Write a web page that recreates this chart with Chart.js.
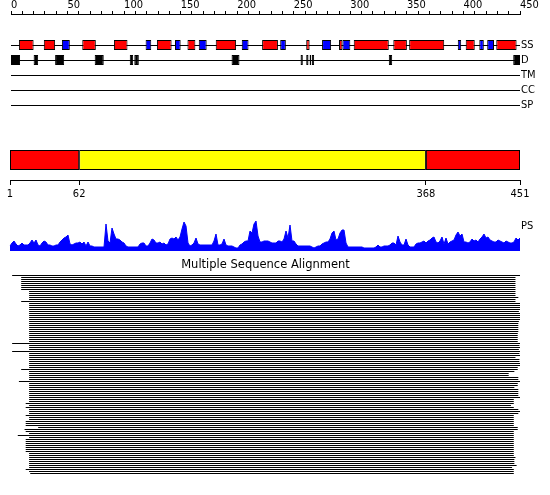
<!DOCTYPE html>
<html>
<head>
<meta charset="utf-8">
<script src="https://cdn.jsdelivr.net/npm/chart.js@4"></script>
<style>
  body { margin: 0; background: #fff; }
  #wrap { position: relative; width: 550px; height: 495px; }
  canvas { position: absolute; left: 0; }
</style>
</head>
<body>
<div id="wrap">
  <canvas id="ruler" width="550" height="20" style="top:0"></canvas>
  <canvas id="tracks" width="550" height="76" style="top:37px"></canvas>
  <canvas id="domains" width="550" height="65" style="top:140px"></canvas>
  <canvas id="profile" width="550" height="37" style="top:215px"></canvas>
  <canvas id="msa" width="550" height="220" style="top:255px"></canvas>
</div>
<script>
// feature tracks (residue ranges)
const trackLabels = ['SS', 'D', 'TM', 'CC', 'SP'];
const helixRanges = [[7, 20], [29, 39], [63, 75], [91, 103], [129, 142], [156, 163], [181, 199],
  [222, 236], [261, 264], [290, 293], [303, 334], [338, 350], [352, 383], [402, 410], [429, 447]];
const strandRanges = [[45, 52], [119, 124], [145, 150], [166, 173], [204, 210], [238, 243],
  [275, 283], [293, 300], [395, 398], [414, 418], [421, 427]];
const disorderRanges = [[0, 8], [20, 24], [39, 47], [74, 82], [105, 108], [109, 113], [195, 202],
  [256, 258], [261, 263], [264, 265.5], [266, 268], [334, 337], [444, 451]];

// domain boundaries
const domainRanges = [[1, 62], [62, 368], [368, 451]];
const domainKinds = ['other', 'domain', 'other'];
const domainTicks = [1, 62, 368, 451];

// PS profile, sampled along the sequence
const psProfile = [
  5, 8, 10, 7, 5, 6, 8, 6, 6, 6,
  8, 11, 8, 11, 6, 5, 8, 10, 9, 6,
  6, 5, 5, 6, 6, 9, 11, 13, 14, 16,
  7, 6, 7, 8, 8, 9, 7, 9, 5, 9,
  5, 5, 4, 4, 4, 4, 4, 4, 27, 10,
  8, 23, 17, 12, 12, 11, 9, 8, 5, 4,
  4, 4, 4, 4, 4, 7, 8, 8, 5, 5,
  8, 12, 11, 8, 8, 9, 7, 8, 6, 7,
  12, 13, 12, 14, 11, 14, 22, 29, 25, 8,
  5, 6, 8, 13, 7, 6, 6, 6, 6, 6,
  6, 6, 10, 17, 6, 6, 7, 12, 6, 5,
  5, 5, 4, 3, 3, 6, 7, 9, 10, 10,
  20, 18, 27, 30, 15, 9, 9, 10, 10,
  10, 9, 8, 8, 8, 10, 10, 9, 12, 20,
  13, 26, 10, 10, 7, 5, 5, 5, 5, 5,
  5, 5, 4, 3, 4, 5, 5, 7, 8, 9,
  9, 12, 18, 20, 11, 12, 18, 21, 21, 8,
  4, 4, 4, 4, 4, 4, 4, 4, 3, 3,
  3, 3, 3, 3, 4, 6, 4, 4, 5, 5,
  5, 6, 8, 8, 6, 15, 9, 6, 6, 12,
  6, 4, 4, 4, 7, 8, 8, 9, 10, 8,
  10, 11, 13, 14, 9, 8, 10, 14, 7, 13,
  7, 9, 10, 11, 16, 19, 15, 17, 9, 9,
  8, 9, 12, 10, 11, 9, 12, 14, 17, 13,
  14, 11, 10, 9, 9, 11, 10, 9, 8, 10,
  9, 8, 8, 9, 13, 11, 13
];

// alignment hits: first and last aligned residue
const msaStart = [
  1, 9, 9, 9, 9, 9, 9, 9, 16, 16,
  16, 16, 16, 9, 16, 16, 16, 16, 16, 16,
  16, 16, 16, 16, 16, 16, 16, 16, 16, 16,
  16, 16, 16, 16, 1, 16, 16, 16, 1, 16,
  16, 16, 16, 16, 16, 16, 16, 9, 16, 16,
  16, 16, 16, 7, 16, 16, 16, 16, 16, 16,
  16, 16, 16, 16, 13, 16, 13, 16, 16, 16,
  13, 16, 16, 13, 13, 13, 24, 12, 13, 16,
  6, 16, 13, 13, 13, 13, 13, 13, 13, 16,
  16, 16, 16, 16, 16, 16, 16, 13, 16, 17
];
const msaEnd = [
  451, 446, 446, 446, 446, 446, 446, 446, 446, 446,
  446, 448.5, 446, 446, 450, 451, 450, 451, 449, 451,
  450, 451, 450, 449, 448.5, 448.5, 448.5, 448.5, 448.5, 448,
  448, 448, 448, 448, 451, 449.5, 450, 449, 450, 449.5,
  450, 446, 449.5, 449.5, 450, 450, 448, 448, 445, 440,
  440, 448.5, 448.5, 451, 448, 448, 445, 448.5, 448.5, 448.5,
  448.5, 451, 444.5, 444.5, 444.5, 442, 444.5, 448.5, 451, 448.5,
  444.5, 444.5, 444.5, 444.5, 444.5, 444.5, 448, 448, 444.5, 444.5,
  444.5, 444.5, 444.5, 444.5, 444.5, 444.5, 444.5, 444.5, 444.5, 444.5,
  444.5, 446, 445, 445, 445, 447, 443, 444.5, 444.5, 444.5
];

Chart.defaults.color = '#000';
Chart.defaults.font.family = 'DejaVu Sans Condensed';
Chart.defaults.font.size = 11;
Chart.defaults.plugins.legend.display = false;
Chart.defaults.plugins.tooltip.enabled = false;

const smallFont = { family: 'DejaVu Sans Condensed', size: 11, lineHeight: 1 };

// fixed-width right-hand label column, no extra vertical padding for labels
function rightColumn(s) {
  s.width = 30;
  s.paddingTop = 0;
  s.paddingBottom = 0;
}

// ruler
new Chart(document.getElementById('ruler'), {
  type: 'line',
  data: { datasets: [] },
  options: {
    responsive: false,
    animation: false,
    layout: { padding: { left: 11, right: 30 } },
    scales: {
      x: {
        type: 'linear', position: 'top', min: 0, max: 450,
        afterFit: s => { s.height = 14; },
        grid: { drawOnChartArea: false, tickLength: 3, color: '#000' },
        border: { color: '#000' },
        ticks: {
          stepSize: 10, maxTicksLimit: 60, autoSkip: false, maxRotation: 0,
          align: 'start', padding: 0, font: smallFont,
          callback: v => (v % 50 === 0 ? v : '')
        }
      },
      y: { display: false }
    }
  }
});

// SS / D / TM / CC / SP tracks
new Chart(document.getElementById('tracks'), {
  type: 'bar',
  data: {
    labels: trackLabels,
    datasets: [
      { data: helixRanges.map(r => ({ x: r, y: 'SS' })), backgroundColor: '#ff0000' },
      { data: strandRanges.map(r => ({ x: r, y: 'SS' })), backgroundColor: '#0000ff' },
      { data: disorderRanges.map(r => ({ x: r, y: 'D' })), backgroundColor: '#000000' }
    ]
  },
  options: {
    indexAxis: 'y',
    responsive: false,
    animation: false,
    datasets: {
      bar: { grouped: false, barThickness: 10, borderColor: '#000', borderWidth: 1, borderSkipped: false, inflateAmount: 0 }
    },
    layout: { padding: { left: 11, top: 0.5, bottom: 0.5 } },
    scales: {
      x: { type: 'linear', min: 0, max: 450, display: false },
      y: {
        type: 'category', position: 'right', offset: true,
        afterFit: rightColumn,
        grid: { offset: false, color: '#000', drawTicks: false },
        border: { display: false },
        ticks: { font: smallFont, padding: 1 }
      }
    }
  }
});

// domain bar
new Chart(document.getElementById('domains'), {
  type: 'bar',
  data: {
    labels: ['domains'],
    datasets: [{
      data: domainRanges.map(r => ({ x: r, y: 'domains' })),
      backgroundColor: domainKinds.map(k => (k === 'domain' ? '#ffff00' : '#ff0000')),
      borderColor: '#000', borderWidth: 1, borderSkipped: false, inflateAmount: 0,
      barThickness: 20
    }]
  },
  options: {
    indexAxis: 'y',
    responsive: false,
    animation: false,
    layout: { padding: { left: 10, right: 30 } },
    scales: {
      x: {
        type: 'linear', position: 'bottom', min: 1, max: 451,
        afterBuildTicks: s => { s.ticks = domainTicks.map(v => ({ value: v })); },
        afterFit: s => { s.height = 25; },
        grid: { drawOnChartArea: false, tickLength: 5, color: '#000' },
        border: { color: '#000' },
        ticks: { autoSkip: false, maxRotation: 0, padding: 4, font: smallFont }
      },
      y: { display: false }
    }
  }
});

// PS profile
new Chart(document.getElementById('profile'), {
  type: 'line',
  data: {
    labels: psProfile.map((v, i) => i),
    datasets: [{
      data: psProfile, borderColor: '#0000ff', backgroundColor: '#0000ff',
      borderWidth: 1, pointRadius: 0, fill: 'origin', tension: 0
    }]
  },
  options: {
    responsive: false,
    animation: false,
    layout: { padding: { left: 10, top: 4, bottom: 1 } },
    scales: {
      x: { display: false, offset: false },
      y: {
        position: 'right', min: 0, max: 32,
        afterFit: rightColumn,
        afterBuildTicks: s => { s.ticks = [{ value: 25 }]; },
        grid: { display: false, drawTicks: false },
        border: { display: false },
        ticks: { padding: 1, font: smallFont, callback: () => 'PS' }
      }
    }
  }
});

// multiple sequence alignment
new Chart(document.getElementById('msa'), {
  type: 'bar',
  data: {
    labels: msaStart.map((v, i) => i),
    datasets: [{
      data: msaStart.map((s, i) => [s, msaEnd[i]]),
      backgroundColor: '#000', borderWidth: 0, inflateAmount: 0, barThickness: 1
    }]
  },
  options: {
    indexAxis: 'y',
    responsive: false,
    animation: false,
    layout: { padding: { left: 11, right: 30, bottom: 0.5 } },
    plugins: {
      title: {
        display: true, text: 'Multiple Sequence Alignment',
        font: { family: 'DejaVu Sans', size: 11.5, weight: 'normal', lineHeight: 1.2 },
        padding: { top: 3.2, bottom: 2.5 }
      }
    },
    scales: {
      x: { type: 'linear', min: 0, max: 450, display: false },
      y: { display: false }
    }
  }
});
</script>
</body>
</html>
